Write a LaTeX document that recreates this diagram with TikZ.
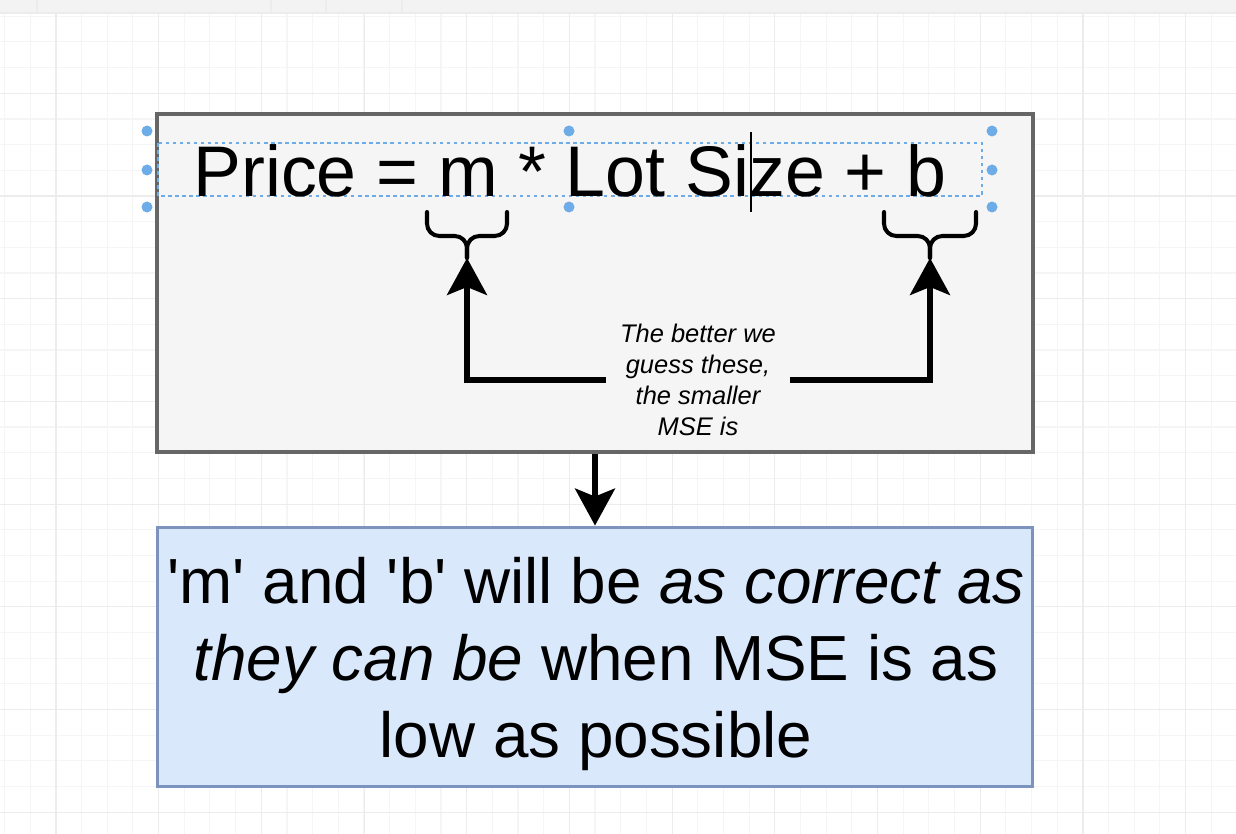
\documentclass[tikz,border=0pt]{standalone}
\usepackage{fontspec}
\setmainfont{Liberation Sans}
\usetikzlibrary{arrows.meta,positioning,calc}
\definecolor{gridmin}{RGB}{245,245,245}
\definecolor{gridmaj}{RGB}{236,236,236}
\definecolor{barbg}{RGB}{243,243,243}
\definecolor{boxgray}{RGB}{245,245,245}
\definecolor{linegray}{RGB}{102,102,102}
\definecolor{boxblue}{RGB}{218,232,252}
\definecolor{lineblue}{RGB}{124,147,190}
\definecolor{sel}{RGB}{110,172,232}

\begin{document}
\begin{tikzpicture}[x=0.02cm, y=-0.02cm,
    box/.style={draw=#1, minimum width=17.52cm, inner sep=0pt},
    arr/.style={-{Stealth[length=0.74cm, width=0.8cm, inset=0.16cm]}, line width=2.9pt},
    brc/.style={line width=2.3pt, rounded corners=7pt, line cap=round},
    handle/.style={circle, fill=sel, inner sep=0pt, minimum size=0.22cm},
    hint/.style={font=\itshape\fontsize{14.5}{17.6}\selectfont, align=center,
                 inner xsep=0.28cm, inner ysep=0pt}]

    \useasboundingbox (0,0) rectangle (1236,834);

    % canvas grid
    \foreach \i in {0,...,48}
      \draw[gridmin, line width=0.6pt] ({4.6+25.67*\i},13) -- ({4.6+25.67*\i},834);
    \foreach \j in {0,...,31}
      \draw[gridmin, line width=0.6pt] (0,{16.3+25.67*\j}) -- (1236,{16.3+25.67*\j});
    \foreach \i in {0,...,11}
      \draw[gridmaj, line width=0.6pt] ({56+102.7*\i},13) -- ({56+102.7*\i},834);
    \foreach \j in {0,...,7}
      \draw[gridmaj, line width=0.6pt] (0,{93.3+102.7*\j}) -- (1236,{93.3+102.7*\j});
    \fill[barbg] (0,0) rectangle (1236,13);
    \draw[gridmaj, line width=0.6pt] (0,13) -- (1236,13);
    \foreach \x in {37,271,326,402}
      \draw[gridmaj, line width=0.6pt] (\x,0) -- (\x,13);

    % boxes
    \node[box=linegray, fill=boxgray, line width=2.3pt, minimum height=6.76cm] (model) at (595,283) {};
    \node[box=lineblue, fill=boxblue, line width=1.7pt, minimum height=5.2cm] (goal) at (595,657) {};

    % equation and selection
    \draw[sel, line width=0.7pt, dash pattern=on 2pt off 2pt] (158,143) rectangle (982,196);
    \node[font=\fontsize{40.8}{49}\selectfont, anchor=base, inner sep=0pt] (eq) at (570,197)
      {Price = m * Lot Size + b};
    \foreach \p [count=\k] in {(147,131),(569,131),(992,131),(147,170),(992,170),(147,207),(569,207),(992,207)}
      \node[handle] (h\k) at \p {};
    \draw[line width=1.1pt] (751,132) -- (751,212);

    % braces under m and b
    \coordinate (mA) at (427,212);
    \coordinate (mB) at (507,212);
    \coordinate (bA) at (884,212);
    \coordinate (bB) at (976,212);
    \coordinate (mtip) at ($(mA)!0.5!(mB)+(0,46)$);
    \coordinate (btip) at ($(bA)!0.5!(bB)+(0,46)$);
    \draw[brc] (mA) -- ($(mA)+(0,24)$) -| (mtip);
    \draw[brc] (mB) -- ($(mB)+(0,24)$) -| (mtip);
    \draw[brc] (bA) -- ($(bA)+(0,24)$) -| (btip);
    \draw[brc] (bB) -- ($(bB)+(0,24)$) -| (btip);

    % note with arrows
    \node[hint] (note) at (698,380) {The better we\\guess these,\\the smaller\\MSE is};
    \draw[arr] (note.west) -| (mtip);
    \draw[arr] (note.east) -| (btip);

    \draw[arr] (model) -- (goal);

    \node[font=\fontsize{36.3}{43.6}\selectfont, align=center, anchor=base, inner sep=0pt] (goaltext) at (596,757)
      {\textquotesingle m\textquotesingle{} and \textquotesingle b\textquotesingle{} will be \textit{as correct as}\\\textit{they can be} when MSE is as\\low as possible};
  \end{tikzpicture}
\end{document}
